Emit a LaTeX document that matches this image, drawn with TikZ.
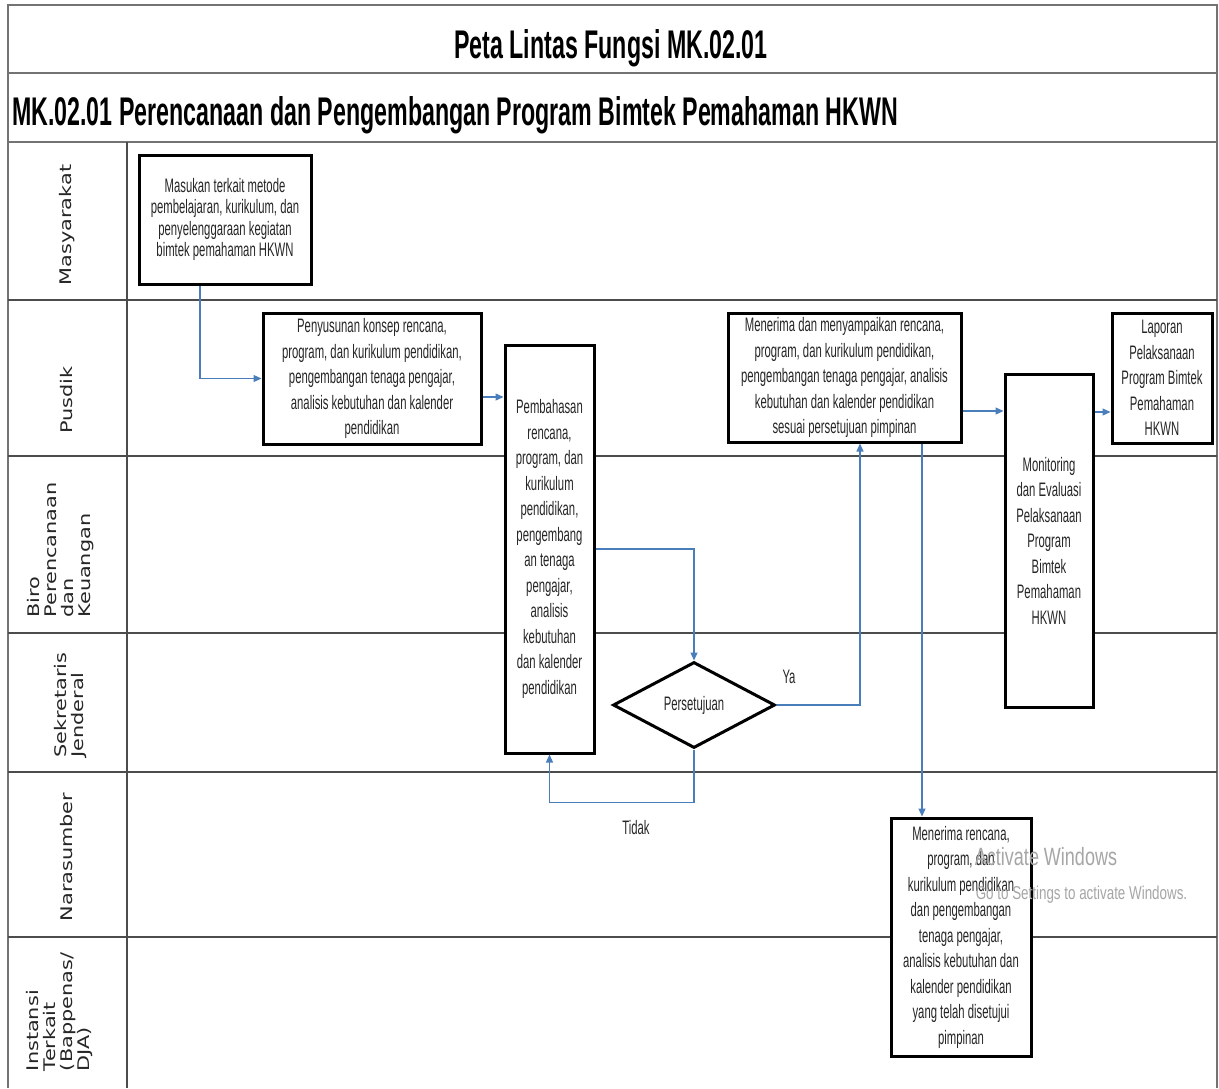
\documentclass[tikz,border=0pt]{standalone}
\usepackage{fontspec}
\setmainfont{Liberation Sans}
\newfontfamily\narrowfont{Liberation Sans}[FakeStretch=0.58]
\newfontfamily\lanefont{DejaVu Sans}[FakeStretch=1.3]
\newfontfamily\wmfont{Liberation Sans}[FakeStretch=0.72]
\usetikzlibrary{arrows.meta,shapes.geometric}
\definecolor{connblue}{RGB}{74,126,187}
\tikzset{
  frameline/.style={draw=black!55, line width=1.8pt},
  laneline/.style={draw=black!70, line width=1.2pt},
  procbox/.style={draw=black, line width=3pt, fill=white, align=center, inner sep=1pt,
    text=black!85, font=\narrowfont\fontsize{19.5pt}{25.5pt}\selectfont},
  decision/.style={diamond, draw=black, line width=3pt, fill=white, inner sep=0pt,
    text=black!85, font=\narrowfont\fontsize{19.5pt}{25.5pt}\selectfont},
  lanelabel/.style={rotate=90, align=left, inner sep=0pt, text=black!85,
    font=\lanefont\fontsize{16pt}{17pt}\selectfont},
  conn/.style={draw=connblue, line width=1.2pt, -{Triangle[length=8pt,width=7pt]}},
  flowlabel/.style={text=black!85, font=\narrowfont\fontsize{19.5pt}{22pt}\selectfont, inner sep=0pt},
  heading/.style={text=black, font=\narrowfont\bfseries\fontsize{40pt}{44pt}\selectfont, inner sep=0pt},
  watermark/.style={text=black!35, inner sep=0pt}
}
\begin{document}
\begin{tikzpicture}[x=1pt,y=-1pt]
\useasboundingbox (0,0) rectangle (1219,1088);
\fill[white] (0,0) rectangle (1219,1088);

% frame
\draw[frameline] (8,1088) -- (8,5) -- (1217,5) -- (1217,1088);
\draw[frameline] (8,73) -- (1217,73);
\draw[frameline] (8,142) -- (1217,142);
% lanes
\foreach \yy in {300,456,633,772,937}
  \draw[laneline] (8,\yy) -- (1217,\yy);
\draw[laneline] (127,142) -- (127,1088);

% headings
\node[heading, anchor=base] (title) at (611,58) {Peta Lintas Fungsi MK.02.01};
\node[heading, anchor=base west] (subtitle) at (12,125) {MK.02.01 Perencanaan dan Pengembangan Program Bimtek Pemahaman HKWN};

% lane labels
\node[lanelabel] (l1) at (67,225) {Masyarakat};
\node[lanelabel] (l2) at (67,400) {Pusdik};
\node[lanelabel] (l3) at (61,550) {Biro\\Perencanaan\\dan\\Keuangan};
\node[lanelabel] (l4) at (71,705) {Sekretaris\\Jenderal};
\node[lanelabel] (l5) at (67,857) {Narasumber};
\node[lanelabel] (l6) at (60,1012) {Instansi\\Terkait\\(Bappenas/\\DJA)};

% process boxes
\node[procbox, minimum width=172pt, minimum height=129pt,
  font=\narrowfont\fontsize{19.5pt}{21.5pt}\selectfont] (mas) at (225,219.5)
  {Masukan terkait metode\\pembelajaran, kurikulum, dan\\penyelenggaraan kegiatan\\bimtek pemahaman HKWN};
\node[procbox, minimum width=218pt, minimum height=131pt] (peny) at (372,378.5)
  {Penyusunan konsep rencana,\\program, dan kurikulum pendidikan,\\pengembangan tenaga pengajar,\\analisis kebutuhan dan kalender\\pendidikan};
\node[procbox, minimum width=89pt, minimum height=408pt] (pemb) at (549.5,549)
  {Pembahasan\\rencana,\\program, dan\\kurikulum\\pendidikan,\\pengembang\\an tenaga\\pengajar,\\analisis\\kebutuhan\\dan kalender\\pendidikan};
\node[decision, minimum width=162pt, minimum height=86pt] (pers) at (694,705) {Persetujuan};
\node[procbox, minimum width=233pt, minimum height=129pt] (men) at (844.5,377.5)
  {Menerima dan menyampaikan rencana,\\program, dan kurikulum pendidikan,\\pengembangan tenaga pengajar, analisis\\kebutuhan dan kalender pendidikan\\sesuai persetujuan pimpinan};
\node[procbox, minimum width=88pt, minimum height=333pt] (mon) at (1049,540.5)
  {Monitoring\\dan Evaluasi\\Pelaksanaan\\Program\\Bimtek\\Pemahaman\\HKWN};
\node[procbox, minimum width=100pt, minimum height=130pt] (lap) at (1162,378)
  {Laporan\\Pelaksanaan\\Program Bimtek\\Pemahaman\\HKWN};
\node[procbox, minimum width=140pt, minimum height=238pt] (mr) at (961,937)
  {Menerima rencana,\\program, dan\\kurikulum pendidikan\\dan pengembangan\\tenaga pengajar,\\analisis kebutuhan dan\\kalender pendidikan\\yang telah disetujui\\pimpinan};

% connectors
\draw[conn] ([xshift=-25pt]mas.south) |- (peny.west);
\draw[conn] ([yshift=-18.5pt]peny.east) -- ([yshift=-18.5pt]peny.east -| pemb.west);
\draw[conn] (pemb.east) -| (pers.north);
\draw[conn] (pers.south) -- ++(0,53) -| (pemb.south);
\draw[conn] (pers.east) -| ([xshift=15.5pt]men.south);
\draw[conn] ([xshift=77.5pt]men.south) -- ([xshift=77.5pt]men.south |- mr.north);
\draw[conn] ([yshift=-33.5pt]men.east) -- ([yshift=-33.5pt]men.east -| mon.west);
\draw[conn] ([yshift=-34pt]lap.west -| mon.east) -- ([yshift=-34pt]lap.west);

% flow labels
\node[flowlabel] (ya) at (789,677) {Ya};
\node[flowlabel] (tidak) at (636,828) {Tidak};

% screenshot watermark
\node[watermark, font=\wmfont\fontsize{25pt}{27pt}\selectfont] (wm1) at (1046,857) {Activate Windows};
\node[watermark, font=\wmfont\fontsize{18.6pt}{20pt}\selectfont] (wm2) at (1081.5,895) {Go to Settings to activate Windows.};
\end{tikzpicture}
\end{document}
